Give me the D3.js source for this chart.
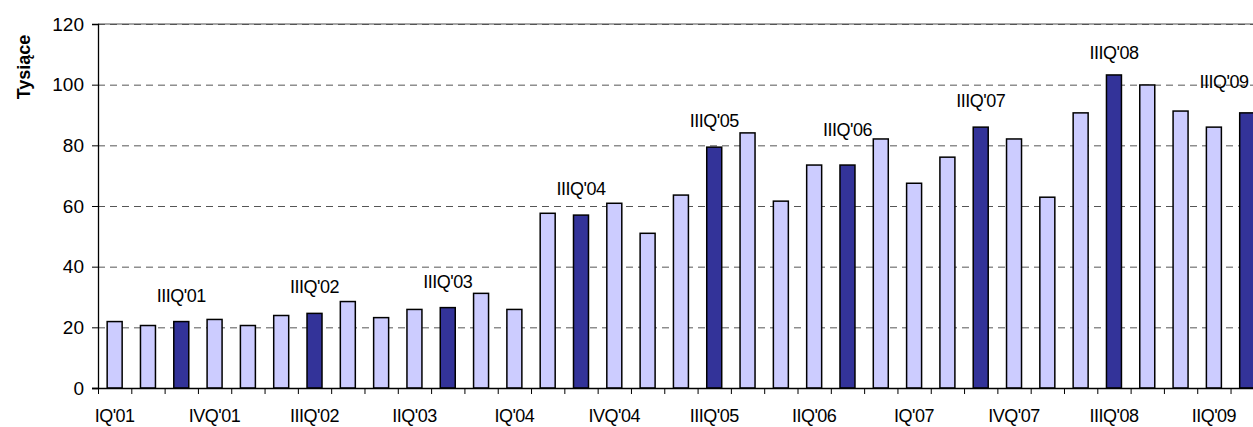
<!DOCTYPE html>
<html>
<head>
<meta charset="utf-8">
<script src="https://cdn.jsdelivr.net/npm/d3@7"></script>
<style>
  html, body { margin: 0; padding: 0; background: #fff; }
  svg { display: block; font-family: "Liberation Sans", Arial, sans-serif; }
</style>
</head>
<body>
<svg id="chart" width="1253" height="427"></svg>
<script>
// Quarterly values, thousands
const quarters = [
  "IQ'01","IIQ'01","IIIQ'01","IVQ'01",
  "IQ'02","IIQ'02","IIIQ'02","IVQ'02",
  "IQ'03","IIQ'03","IIIQ'03","IVQ'03",
  "IQ'04","IIQ'04","IIIQ'04","IVQ'04",
  "IQ'05","IIQ'05","IIIQ'05","IVQ'05",
  "IQ'06","IIQ'06","IIIQ'06","IVQ'06",
  "IQ'07","IIQ'07","IIIQ'07","IVQ'07",
  "IQ'08","IIQ'08","IIIQ'08","IVQ'08",
  "IQ'09","IIQ'09","IIIQ'09"
];
const values = [
  21.9, 20.6, 21.9, 22.6,
  20.6, 23.9, 24.6, 28.5,
  23.2, 25.9, 26.5, 31.2,
  25.9, 57.6, 57.0, 60.9,
  51.0, 63.6, 79.4, 84.1,
  61.6, 73.5, 73.5, 82.1,
  67.5, 76.1, 86.0, 82.1,
  62.9, 90.7, 103.2, 99.9,
  91.3, 86.0, 90.7
];
const yTicks = [0, 20, 40, 60, 80, 100, 120];
const axisTitle = "Tysiące";

const W = 1253, H = 427;
const left = 98, zeroY = 388, topY = 24;
const step = 33.31;
const right = left + step * quarters.length;   // plot runs past the window edge

const svg = d3.select("#chart");

const x = d3.scaleBand().domain(quarters).range([left, right])
  .paddingInner(0.55).paddingOuter(0.275);
const xEdge = d3.scaleLinear().domain([0, quarters.length]).range([left, right]);
const y = d3.scaleLinear().domain([0, 120]).range([zeroY, topY]);

const isThird = q => q.startsWith("IIIQ");

// horizontal grid
const grid = svg.append("g");
grid.append("line")
  .attr("x1", left).attr("x2", right)
  .attr("y1", y(120)).attr("y2", y(120))
  .attr("stroke", "#8a8a8a").attr("stroke-width", 1.5);
grid.selectAll("line.g").data(yTicks.filter(t => t > 0)).join("line")
  .attr("class", "g")
  .attr("x1", left).attr("x2", right)
  .attr("y1", d => y(d) + 0.5).attr("y2", d => y(d) + 0.5)
  .attr("stroke", "#555").attr("stroke-width", 1)
  .attr("stroke-dasharray", "7,5");

// bars
svg.append("g").selectAll("rect").data(quarters).join("rect")
  .attr("x", q => x(q))
  .attr("y", (q, i) => y(values[i]))
  .attr("width", x.bandwidth())
  .attr("height", (q, i) => zeroY - y(values[i]))
  .attr("fill", q => isThird(q) ? "#333399" : "#ccccff")
  .attr("stroke", "#000").attr("stroke-width", 1.5);

// y axis
const yAxis = svg.append("g").attr("transform", `translate(${left},0)`)
  .call(d3.axisLeft(y).tickValues(yTicks).tickSize(6).tickPadding(8));
yAxis.select(".domain").attr("stroke", "#000").attr("stroke-width", 1.3);
yAxis.selectAll(".tick line").attr("stroke", "#000");
yAxis.selectAll("text").attr("font-size", 19).attr("fill", "#000")
  .attr("font-family", "Liberation Sans, Arial, sans-serif");

// x axis: ticks on category boundaries
const xAxis = svg.append("g").attr("transform", `translate(0,${zeroY})`)
  .call(d3.axisBottom(xEdge).tickValues(d3.range(quarters.length + 1))
    .tickSize(6).tickFormat(""));
xAxis.select(".domain").attr("stroke", "#000").attr("stroke-width", 1.3)
  .attr("d", `M${left - 6},0.5H${right}`);
xAxis.selectAll(".tick line").attr("stroke", "#000");

// category labels every third quarter
svg.append("g").selectAll("text")
  .data(quarters.filter((q, i) => i % 3 === 0)).join("text")
  .attr("x", q => x(q) + x.bandwidth() / 2)
  .attr("y", 422)
  .attr("text-anchor", "middle")
  .attr("font-size", 18)
  .attr("letter-spacing", -0.5)
  .text(q => q);

// notes above the third-quarter bars; the last one is kept inside the frame
const noteLift = { "IIIQ'06": 29, "IIIQ'08": 16, "IIIQ'09": 25 };
svg.append("g").selectAll("text")
  .data(quarters.filter(isThird)).join("text")
  .attr("x", q => Math.min(x(q) + x.bandwidth() / 2, W - 29))
  .attr("y", q => y(values[quarters.indexOf(q)]) - (noteLift[q] || 20))
  .attr("text-anchor", "middle")
  .attr("font-size", 18)
  .attr("letter-spacing", -0.5)
  .text(q => q);

// axis title
svg.append("text")
  .attr("transform", "translate(30,67) rotate(-90)")
  .attr("text-anchor", "middle")
  .attr("font-size", 18)
  .attr("font-weight", "bold")
  .text(axisTitle);
</script>
</body>
</html>
